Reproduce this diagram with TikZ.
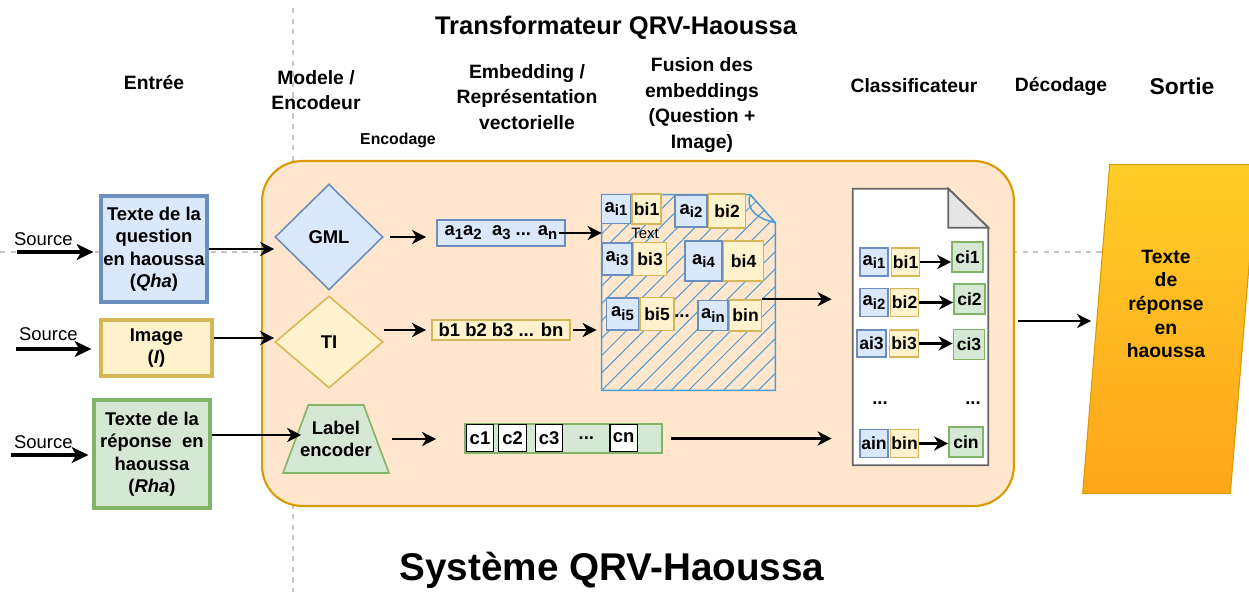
\documentclass[tikz,border=0pt]{standalone}
\usepackage{fontspec}
\setmainfont{Liberation Sans}
\usepackage{tikz}
\usetikzlibrary{shapes.geometric, arrows.meta, positioning, patterns.meta, calc}
\definecolor{qblue}{HTML}{DAE8FC}
\definecolor{qblueD}{HTML}{6C8EBF}
\definecolor{iyel}{HTML}{FFF2CC}
\definecolor{iyelD}{HTML}{D6B656}
\definecolor{rgrn}{HTML}{D5E8D4}
\definecolor{rgrnD}{HTML}{82B366}
\definecolor{peach}{HTML}{FFE6CC}
\definecolor{peachD}{HTML}{D79B00}
\definecolor{fusbl}{HTML}{4A9ED6}
\definecolor{outT}{HTML}{FFCD28}
\definecolor{outB}{HTML}{FFA51A}
\newcommand{\lowidx}[1]{\raisebox{-0.4ex}{\fontsize{8.5}{9}\selectfont\bfseries #1}}

\begin{document}
\begin{tikzpicture}[
  x=0.02cm, y=-0.02cm,
  every node/.style={font=\fontsize{10.5}{12.8}\selectfont\bfseries},
  hd/.style={align=center, font=\fontsize{11}{14.5}\selectfont\bfseries},
  inbox/.style={draw, line width=1.8pt, align=center, inner sep=1pt},
  qbox/.style={inbox, fill=qblue, draw=qblueD},
  ibox/.style={inbox, fill=iyel, draw=iyelD},
  rbox/.style={inbox, fill=rgrn, draw=rgrnD},
  enc/.style={diamond, line width=0.9pt, inner sep=0pt},
  vec/.style={line width=1pt, inner sep=0pt},
  cellA/.style={draw=qblueD, fill=qblue, line width=0.9pt, minimum width=0.58cm,
                minimum height=0.58cm, inner sep=0pt, font=\fontsize{10.5}{11}\selectfont\bfseries},
  cellB/.style={cellA, draw=iyelD, fill=iyel, font=\fontsize{10}{11}\selectfont\bfseries},
  cellC/.style={cellB, draw=rgrnD, fill=rgrn, minimum width=0.62cm, minimum height=0.6cm},
  cellW/.style={draw=black, fill=white, line width=0.6pt, minimum width=0.55cm,
                minimum height=0.55cm, inner sep=0pt},
  srclbl/.style={font=\fontsize{10.5}{12}\selectfont, inner sep=1pt},
  arr/.style={-{Stealth[length=8pt, width=8pt, inset=2.4pt]}, line width=1.3pt},
  srcarr/.style={-{Stealth[length=9.5pt, width=9pt, inset=2.5pt]}, line width=1.9pt},
  guide/.style={draw=gray!45, dashed, line width=0.7pt},
  docline/.style={draw=black!60, line width=1pt},
  fusline/.style={draw=fusbl, line width=0.9pt}
]
\useasboundingbox (0,0) rectangle (1249,592);
\draw[guide] (293,8) -- (293,592);
\draw[guide] (0,252) -- (1110,252);

\node[fill=peach, draw=peachD, line width=1.2pt, rounded corners=0.8cm,
      minimum width=15.04cm, minimum height=6.9cm] (sys) at (638,333.5) {};

\node[hd, font=\fontsize{14.5}{16}\selectfont\bfseries] (htr) at (616,28) {Transformateur QRV-Haoussa};
\node[hd] (hin)  at (154,83)  {Entrée};
\node[hd] (hmod) at (316,90)  {Modele /\\Encodeur};
\node[hd, font=\fontsize{9}{10}\selectfont\bfseries] (henc) at (398,140) {Encodage};
\node[hd] (hemb) at (527,97)  {Embedding /\\Représentation\\vectorielle};
\node[hd] (hfus) at (702,105) {Fusion des\\embeddings\\(Question +\\Image)};
\node[hd] (hcls) at (914,86)  {Classificateur};
\node[hd] (hdec) at (1061,86) {Décodage};
\node[hd, font=\fontsize{13}{15}\selectfont\bfseries] (hsor) at (1182,86) {Sortie};
\node[hd, font=\fontsize{22}{24}\selectfont\bfseries] (hsys) at (612,570) {Système QRV-Haoussa};

\node[qbox, minimum width=2.12cm, minimum height=2.12cm] (qha) at (154,249)
  {Texte de la\\question\\en haoussa\\(\textit{Qha})};
\node[ibox, minimum width=2.22cm, minimum height=1.12cm] (img) at (156.5,348) {Image\\(\textit{I})};
\node[rbox, minimum width=2.32cm, minimum height=2.16cm] (rha) at (152,454)
  {Texte de la\\réponse~ en\\haoussa\\(\textit{Rha})};

\coordinate (s1) at (17,252);
\coordinate (s2) at (16,349);
\coordinate (s3) at (11,455);
\node[srclbl, anchor=south west] (src1) at ([xshift=-0.1cm, yshift=0.08cm]s1) {Source};
\node[srclbl, anchor=south west] (src2) at ([xshift=0.02cm, yshift=0.12cm]s2) {Source};
\node[srclbl, anchor=south west] (src3) at ([xshift=0.02cm, yshift=0.08cm]s3) {Source};
\draw[srcarr, shorten >=0.12cm] (s1) -- (s1 -| qha.west);
\draw[srcarr, shorten >=0.16cm] (s2) -- (s2 -| img.west);
\draw[srcarr, shorten >=0.08cm] (s3) -- (s3 -| rha.west);

\node[enc, fill=qblue, draw=qblueD, minimum width=2.16cm, minimum height=2.12cm] (gml) at (329,237) {GML};
\node[enc, fill=iyel, draw=iyelD, minimum width=2.16cm, minimum height=1.84cm] (ti) at (329,342) {TI};
\node[trapezium, trapezium left angle=69, trapezium right angle=69, trapezium stretches body=true,
      draw=rgrnD, fill=rgrn, line width=0.9pt, align=center, inner xsep=-0.18cm, inner ysep=0.3cm,
      minimum width=2.12cm, minimum height=1.36cm] (lab) at (336,439) {Label\\encoder};

\draw[arr] (qha.east) -- (qha.east -| gml.west);
\draw[arr] ([yshift=0.2cm]img.east) -- ([yshift=0.2cm]img.east -| ti.west);
\draw[arr] ([yshift=0.38cm]rha.east) -- ([yshift=0.38cm]rha.east -| lab.south west);

\node[vec, fill=qblue, draw=qblueD, minimum width=2.56cm, minimum height=0.52cm] (avec) at (501,233)
  {a\lowidx{1}a\lowidx{2}\ \ a\lowidx{3} ... a\lowidx{n}};
\node[vec, fill=iyel, draw=iyelD, minimum width=2.76cm, minimum height=0.4cm] (bvec) at (501,330)
  {b1 b2 b3 ... bn};
\node[vec, fill=rgrn, draw=rgrnD, minimum width=3.94cm, minimum height=0.58cm] (cvec) at (563.5,438.5) {};
\node[cellW] (c1) at (480,438) {c1};
\node[cellW, right=0.08cm of c1] (c2) {c2};
\node[cellW, right=0.16cm of c2] (c3) {c3};
\node[right=0.3cm of c3, inner sep=0pt] (cdots) {...};
\node[cellW, right=0.3cm of cdots] (cn) {cn};

\draw[arr, shorten <=0.12cm, shorten >=0.2cm] (gml.east) -- (gml.east -| avec.west);
\draw[arr, shorten >=0.1cm] (bvec.west -| ti.east) -- (bvec.west);
\draw[arr, shorten <=0.3cm, shorten >=0.56cm] (lab.east) -- (lab.east -| cvec.west);

\node[minimum width=3.46cm, minimum height=3.9cm, inner sep=0pt] (fus) at (688.5,292.5) {};
\draw[fusline, pattern={Lines[angle=45, distance=7pt, line width=0.6pt]}, pattern color=fusbl]
  (fus.north west) -- ([xshift=-0.5cm]fus.north east) -- ([yshift=-0.56cm]fus.north east)
  -- (fus.south east) -- (fus.south west) -- cycle;
\draw[fusline] ([xshift=-0.5cm]fus.north east) .. controls ([xshift=-0.62cm, yshift=-0.32cm]fus.north east)
  and ([xshift=-0.3cm, yshift=-0.5cm]fus.north east) .. ([yshift=-0.56cm]fus.north east);

\node[cellA] (fa1) at (616,209) {a\lowidx{i1}};
\node[cellB, right=0pt of fa1, minimum height=0.6cm] (fb1) {bi1};
\node[font=\fontsize{8.5}{9}\selectfont, inner sep=0pt] (ftxt) at (645,233) {Text};
\node[cellA, minimum width=0.64cm, minimum height=0.64cm] (fa2) at (691,211) {a\lowidx{i2}};
\node[cellB, right=0pt of fa2, minimum width=0.74cm, minimum height=0.68cm] (fb2) {bi2};
\node[cellA, minimum width=0.6cm, minimum height=0.64cm] (fa3) at (617,259) {a\lowidx{i3}};
\node[cellB, right=0pt of fa3, minimum width=0.66cm, minimum height=0.66cm] (fb3) {bi3};
\node[cellA, minimum width=0.74cm, minimum height=0.8cm] (fa4) at (703.5,261) {a\lowidx{i4}};
\node[cellB, right=0pt of fa4, minimum width=0.8cm, minimum height=0.8cm] (fb4) {bi4};
\node[cellA, minimum width=0.64cm, minimum height=0.64cm] (fa5) at (622.5,314) {a\lowidx{i5}};
\node[cellB, right=0pt of fa5, minimum width=0.68cm, minimum height=0.66cm] (fb5) {bi5};
\node[inner sep=0pt] (fdots) at (682,316) {...};
\node[cellA, minimum width=0.6cm, minimum height=0.6cm] (fan) at (713,315.5) {a\lowidx{in}};
\node[cellB, right=0pt of fan, minimum width=0.64cm, minimum height=0.62cm] (fbn) {bin};

\draw[arr] ([xshift=-0.14cm]avec.east) -- (avec.east -| fus.west);
\draw[arr, shorten <=0.04cm, shorten >=0.1cm] (bvec.east) -- (bvec.east -| fus.west);

\node[minimum width=2.7cm, minimum height=5.52cm, inner sep=0pt] (cls) at (920.5,327) {};
\draw[docline, fill=white] (cls.north west) -- ([xshift=-0.8cm]cls.north east)
  -- ([yshift=-0.78cm]cls.north east) -- (cls.south east) -- (cls.south west) -- cycle;
\draw[docline, fill=gray!20] ([xshift=-0.8cm]cls.north east) -- ([xshift=-0.8cm, yshift=-0.78cm]cls.north east)
  -- ([yshift=-0.78cm]cls.north east) -- cycle;

\node[cellA, minimum width=0.56cm, minimum height=0.56cm] (ka1) at (874,262) {a\lowidx{i1}};
\node[cellB, right=0.04cm of ka1, minimum width=0.56cm, minimum height=0.56cm] (kb1) {bi1};
\node[cellC] (kc1) at (967.5,257) {ci1};
\node[cellA, minimum width=0.56cm, minimum height=0.56cm] (ka2) at (874,302.5) {a\lowidx{i2}};
\node[cellB, right=0.02cm of ka2, minimum width=0.56cm, minimum height=0.56cm] (kb2) {bi2};
\node[cellC] (kc2) at (969.5,299) {ci2};
\node[cellA, minimum width=0.58cm, minimum height=0.54cm, font=\fontsize{10}{11}\selectfont\bfseries] (ka3) at (871.5,343.5) {ai3};
\node[cellB, right=0.04cm of ka3, minimum width=0.58cm, minimum height=0.54cm] (kb3) {bi3};
\node[cellC] (kc3) at (969,344.5) {ci3};
\node[inner sep=0pt] (kd1) at (880,403) {...};
\node[inner sep=0pt] (kd2) at (973,403) {...};
\node[cellA, minimum width=0.56cm, minimum height=0.56cm, font=\fontsize{10}{11}\selectfont\bfseries] (ka4) at (874,443.5) {ain};
\node[cellB, right=0.02cm of ka4, minimum width=0.56cm, minimum height=0.56cm] (kb4) {bin};
\node[cellC, minimum width=0.68cm] (kc4) at (966,442) {cin};

\draw[arr] (kb1.east) -- (kb1.east -| kc1.west);
\draw[arr] (kb2.east) -- (kb2.east -| kc2.west);
\draw[arr] (kb3.east) -- (kb3.east -| kc3.west);
\draw[arr] (kb4.east) -- (kb4.east -| kc4.west);

\draw[arr, shorten >=0.42cm] (fbn.north east) -- (fbn.north east -| cls.west);
\draw[arr, shorten <=0.16cm, shorten >=0.42cm] (cvec.east) -- (cvec.east -| cls.west);

\node[minimum width=2.94cm, minimum height=6.56cm, inner sep=0pt] (out) at (1170,329) {};
\shadedraw[top color=outT, bottom color=outB, draw=peachD, line width=0.6pt]
  ([xshift=-0.27cm]out.south west) -- ([xshift=0.27cm]out.north west)
  -- ([xshift=0.27cm]out.north east) -- ([xshift=-0.27cm]out.south east) -- cycle;
\node[align=center, font=\fontsize{11}{13.5}\selectfont\bfseries] (otxt) at (1166,304)
  {Texte\\de\\réponse\\en\\haoussa};

\draw[arr, shorten <=0.6cm, shorten >=0.1cm] ([yshift=0.12cm]cls.east) -- ([yshift=0.12cm]cls.east -| out.west);
\end{tikzpicture}
\end{document}
